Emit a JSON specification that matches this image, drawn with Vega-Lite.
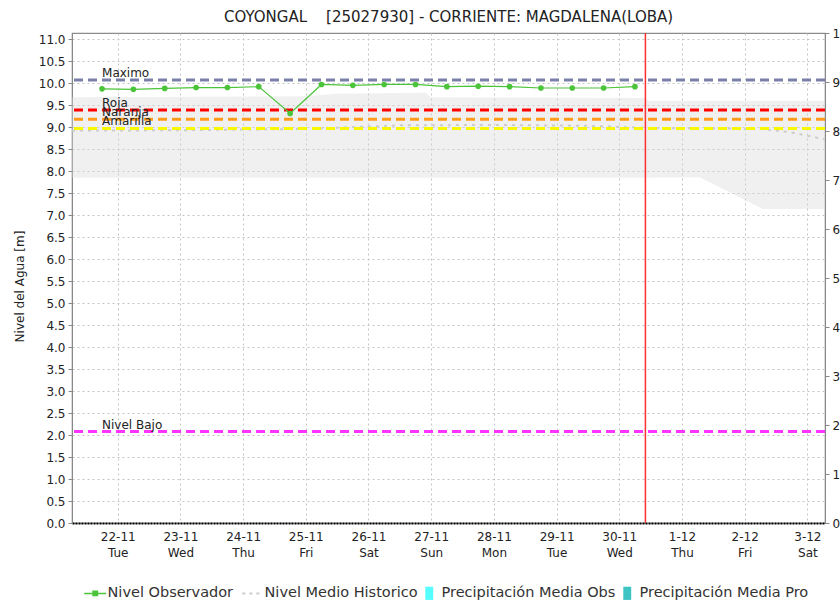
{
  "$schema": "https://vega.github.io/schema/vega-lite/v6.json",
  "width": 753,
  "height": 490,
  "autosize": {"type": "none"},
  "padding": {"left": 72, "top": 33, "right": 15, "bottom": 82},
  "background": "white",
  "title": {
    "text": "COYONGAL\u00a0\u00a0\u00a0 [25027930] - CORRIENTE: MAGDALENA(LOBA)",
    "fontSize": 15, "fontWeight": "normal", "font": "DejaVu Sans", "color": "#222222",
    "anchor": "middle", "offset": 2
  },
  "datasets": {
    "band": [
      {"t": "2022-11-21T06:30:00Z", "lo": 7.85, "hi": 9.68},
      {"t": "2022-11-25T00:00:00Z", "lo": 7.85, "hi": 9.70},
      {"t": "2022-11-25T12:00:00Z", "lo": 7.85, "hi": 9.76},
      {"t": "2022-11-26T22:00:00Z", "lo": 7.85, "hi": 9.78},
      {"t": "2022-11-27T00:00:00Z", "lo": 7.85, "hi": 9.68},
      {"t": "2022-11-30T10:00:00Z", "lo": 7.85, "hi": 9.66},
      {"t": "2022-11-30T11:00:00Z", "lo": 7.85, "hi": 9.60},
      {"t": "2022-12-01T06:45:00Z", "lo": 7.86, "hi": 9.60},
      {"t": "2022-12-02T07:00:00Z", "lo": 7.14, "hi": 9.60},
      {"t": "2022-12-03T06:45:00Z", "lo": 7.14, "hi": 9.60}
    ],
    "mean": [
      {"t": "2022-11-21T06:30:00Z", "v": 8.92},
      {"t": "2022-11-23T00:00:00Z", "v": 8.93},
      {"t": "2022-11-25T00:00:00Z", "v": 8.96},
      {"t": "2022-11-26T12:00:00Z", "v": 9.04},
      {"t": "2022-11-28T00:00:00Z", "v": 9.05},
      {"t": "2022-11-29T12:00:00Z", "v": 9.03},
      {"t": "2022-11-30T12:00:00Z", "v": 8.98},
      {"t": "2022-12-01T12:00:00Z", "v": 8.97},
      {"t": "2022-12-02T06:00:00Z", "v": 8.96},
      {"t": "2022-12-02T18:00:00Z", "v": 8.88},
      {"t": "2022-12-03T06:45:00Z", "v": 8.72}
    ],
    "thresholds": [
      {"name": "Maximo", "value": 10.07},
      {"name": "Roja", "value": 9.39},
      {"name": "Naranja", "value": 9.18},
      {"name": "Amarilla", "value": 8.97},
      {"name": "Nivel Bajo", "value": 2.08}
    ],
    "obs": [
      {"t": "2022-11-21T18:00:00Z", "nivel": 9.87},
      {"t": "2022-11-22T06:00:00Z", "nivel": 9.86},
      {"t": "2022-11-22T18:00:00Z", "nivel": 9.88},
      {"t": "2022-11-23T06:00:00Z", "nivel": 9.90},
      {"t": "2022-11-23T18:00:00Z", "nivel": 9.90},
      {"t": "2022-11-24T06:00:00Z", "nivel": 9.92},
      {"t": "2022-11-24T18:00:00Z", "nivel": 9.31},
      {"t": "2022-11-25T06:00:00Z", "nivel": 9.97},
      {"t": "2022-11-25T18:00:00Z", "nivel": 9.95},
      {"t": "2022-11-26T06:00:00Z", "nivel": 9.97},
      {"t": "2022-11-26T18:00:00Z", "nivel": 9.97},
      {"t": "2022-11-27T06:00:00Z", "nivel": 9.92},
      {"t": "2022-11-27T18:00:00Z", "nivel": 9.93},
      {"t": "2022-11-28T06:00:00Z", "nivel": 9.92},
      {"t": "2022-11-28T18:00:00Z", "nivel": 9.89},
      {"t": "2022-11-29T06:00:00Z", "nivel": 9.89},
      {"t": "2022-11-29T18:00:00Z", "nivel": 9.89},
      {"t": "2022-11-30T06:00:00Z", "nivel": 9.92}
    ],
    "now": [{"t": "2022-11-30T10:00:00Z"}],
    "precip": [
      {"t": "2022-11-22T00:00:00Z", "p": 0, "serie": "Precipitación Media Obs"},
      {"t": "2022-11-23T00:00:00Z", "p": 0, "serie": "Precipitación Media Obs"},
      {"t": "2022-11-24T00:00:00Z", "p": 0, "serie": "Precipitación Media Obs"},
      {"t": "2022-11-25T00:00:00Z", "p": 0, "serie": "Precipitación Media Obs"},
      {"t": "2022-11-26T00:00:00Z", "p": 0, "serie": "Precipitación Media Obs"},
      {"t": "2022-11-27T00:00:00Z", "p": 0, "serie": "Precipitación Media Obs"},
      {"t": "2022-11-28T00:00:00Z", "p": 0, "serie": "Precipitación Media Obs"},
      {"t": "2022-11-29T00:00:00Z", "p": 0, "serie": "Precipitación Media Obs"},
      {"t": "2022-11-30T00:00:00Z", "p": 0, "serie": "Precipitación Media Obs"},
      {"t": "2022-12-01T00:00:00Z", "p": 0, "serie": "Precipitación Media Pro"},
      {"t": "2022-12-02T00:00:00Z", "p": 0, "serie": "Precipitación Media Pro"},
      {"t": "2022-12-03T00:00:00Z", "p": 0, "serie": "Precipitación Media Pro"}
    ]
  },
  "layer": [
    {
      "layer": [
        {
          "data": {"name": "band"},
          "mark": {"type": "area", "fill": "#dadada", "opacity": 0.4},
          "encoding": {
            "x": {
              "field": "t", "type": "temporal", "title": null,
              "scale": {"type": "utc", "padding": 0, "nice": false, "domain": [
                {"year": 2022, "month": "nov", "date": 21, "hours": 6, "minutes": 30, "utc": true},
                {"year": 2022, "month": "dec", "date": 3, "hours": 6, "minutes": 45, "utc": true}
              ]},
              "axis": {
                "tickCount": {"interval": "day", "step": 1},
                "labelExpr": "[utcFormat(datum.value, '%-d-%m'), utcFormat(datum.value, '%a')]",
                "grid": true, "gridDash": [2, 3], "gridColor": "#c4c4c4",
                "domainColor": "#000000", "domainDash": [2, 1], "domainWidth": 2,
                "ticks": false, "labelPadding": 8, "labelFontSize": 12, "labelLineHeight": 16, "labelDx": -2,
                "labelColor": "#222222", "labelFlush": false, "labelOverlap": false
              }
            },
            "y": {
              "field": "lo", "type": "quantitative", "title": "Nivel del Agua [m]",
              "scale": {"domain": [0, 11.14], "nice": false, "zero": false},
              "axis": {
                "tickCount": 23, "tickMinStep": 0.5,
                "labelExpr": "format(datum.value, '.1f')",
                "grid": true, "gridDash": [2, 3], "gridColor": "#c4c4c4",
                "domainColor": "#888888", "tickColor": "#888888", "tickSize": 4,
                "labelFontSize": 12, "labelColor": "#222222", "labelPadding": 3,
                "labelOverlap": false, "labelBound": false, "labelFlush": false, "labelSeparation": 0,
                "titleFontSize": 12, "titleFontWeight": "normal", "titleColor": "#222222", "titlePadding": 12, "titleY": 253
              }
            },
            "y2": {"field": "hi"}
          }
        },
        {
          "data": {"name": "mean"},
          "mark": {"type": "line", "strokeDash": [3, 5], "strokeWidth": 2},
          "encoding": {
            "x": {"field": "t", "type": "temporal", "title": null},
            "y": {"field": "v", "type": "quantitative", "title": "Nivel del Agua [m]"},
            "color": {"datum": "Nivel Medio Historico", "type": "nominal", "title": null}
          }
        },
        {
          "data": {"name": "thresholds"},
          "mark": {"type": "rule", "strokeDash": [9, 5], "strokeWidth": 3},
          "encoding": {
            "y": {"field": "value", "type": "quantitative", "title": "Nivel del Agua [m]"},
            "stroke": {
              "field": "name", "type": "nominal", "legend": null,
              "scale": {"domain": ["Maximo", "Roja", "Naranja", "Amarilla", "Nivel Bajo"],
                        "range": ["#7a80a8", "#ff0000", "#ff9a1a", "#f8f800", "#ff33ff"]}
            }
          }
        },
        {
          "data": {"name": "thresholds"},
          "mark": {"type": "text", "align": "left", "baseline": "alphabetic", "dy": -3, "fontSize": 12, "font": "DejaVu Sans", "color": "#222222"},
          "encoding": {
            "x": {"datum": {"year": 2022, "month": "nov", "date": 21, "hours": 18, "utc": true}, "type": "temporal"},
            "y": {"field": "value", "type": "quantitative", "title": "Nivel del Agua [m]"},
            "text": {"field": "name"}
          }
        },
        {
          "data": {"name": "obs"},
          "mark": {"type": "line", "strokeWidth": 1.2, "point": {"filled": true, "size": 32, "shape": "circle"}},
          "encoding": {
            "x": {"field": "t", "type": "temporal", "title": null},
            "y": {"field": "nivel", "type": "quantitative", "title": "Nivel del Agua [m]"},
            "color": {
              "datum": "Nivel Observador", "type": "nominal", "title": null,
              "scale": {
                "domain": ["Nivel Observador", "Nivel Medio Historico", "Precipitación Media Obs", "Precipitación Media Pro"],
                "range": ["#4cc43a", "#cccccc", "#55ffff", "#3fc4c4"]
              },
              "legend": {
                "orient": "none", "legendX": 16, "legendY": 553, "direction": "horizontal", "title": null,
                "labelFont": "DejaVu Sans", "labelFontSize": 14.5, "labelColor": "#333333", "labelLimit": 400,
                "symbolSize": 484, "labelOffset": 5, "columnPadding": 4,
                "encode": {
                  "symbols": {
                    "update": {
                      "shape": {"signal": "datum.label == 'Nivel Observador' ? 'M-1,0H1M-0.2,-0.2H0.2V0.2H-0.2Z' : datum.label == 'Nivel Medio Historico' ? 'M-0.9,0H0.9' : 'M-0.36,-0.6H0.36V0.6H-0.36Z'"},
                      "strokeDash": {"signal": "datum.label == 'Nivel Medio Historico' ? [3, 4] : [1, 0]"},
                      "strokeWidth": {"signal": "datum.label == 'Nivel Observador' ? 1.5 : datum.label == 'Nivel Medio Historico' ? 2 : 0"},
                      "fill": {"scale": "color", "field": "value"},
                      "stroke": {"scale": "color", "field": "value"},
                      "opacity": {"value": 1},
                      "fillOpacity": {"value": 1}
                    }
                  }
                }
              }
            }
          }
        },
        {
          "data": {"name": "now"},
          "mark": {"type": "rule", "color": "#ff3030", "strokeWidth": 1.5},
          "encoding": {
            "x": {"field": "t", "type": "temporal", "title": null}
          }
        }
      ]
    },
    {
      "data": {"name": "precip"},
      "mark": {"type": "bar", "width": 8},
      "encoding": {
        "x": {"field": "t", "type": "temporal", "title": null},
        "y": {
          "field": "p", "type": "quantitative", "title": null,
          "scale": {"domain": [0, 10], "nice": false},
          "axis": {
            "orient": "right", "values": [0, 1, 2, 3, 4, 5, 6, 7, 8, 9, 10], "format": "d",
            "grid": false, "domainColor": "#888888", "tickColor": "#888888", "tickSize": 4,
            "labelFontSize": 12, "labelColor": "#222222", "labelPadding": 3, "labelOverlap": false
          }
        },
        "color": {
          "field": "serie", "type": "nominal", "title": null,
          "legend": {
            "orient": "none", "legendX": 16, "legendY": 553, "direction": "horizontal", "title": null,
            "labelFont": "DejaVu Sans", "labelFontSize": 14.5, "labelColor": "#333333", "labelLimit": 400,
            "symbolSize": 484, "labelOffset": 5, "columnPadding": 4,
            "encode": {
              "symbols": {
                "update": {
                  "shape": {"signal": "datum.label == 'Nivel Observador' ? 'M-1,0H1M-0.2,-0.2H0.2V0.2H-0.2Z' : datum.label == 'Nivel Medio Historico' ? 'M-0.9,0H0.9' : 'M-0.36,-0.6H0.36V0.6H-0.36Z'"},
                  "strokeDash": {"signal": "datum.label == 'Nivel Medio Historico' ? [3, 4] : [1, 0]"},
                  "strokeWidth": {"signal": "datum.label == 'Nivel Observador' ? 1.5 : datum.label == 'Nivel Medio Historico' ? 2 : 0"},
                  "fill": {"scale": "color", "field": "value"},
                  "stroke": {"scale": "color", "field": "value"},
                  "opacity": {"value": 1},
                  "fillOpacity": {"value": 1}
                }
              }
            }
          }
        }
      }
    }
  ],
  "resolve": {"scale": {"y": "independent"}, "axis": {"y": "independent"}},
  "config": {
    "font": "DejaVu Sans",
    "axis": {"labelOverlap": false},
    "axisY": {"labelOverlap": false},
    "view": {"stroke": "#8c8c8c", "strokeWidth": 1.2}
  }
}
